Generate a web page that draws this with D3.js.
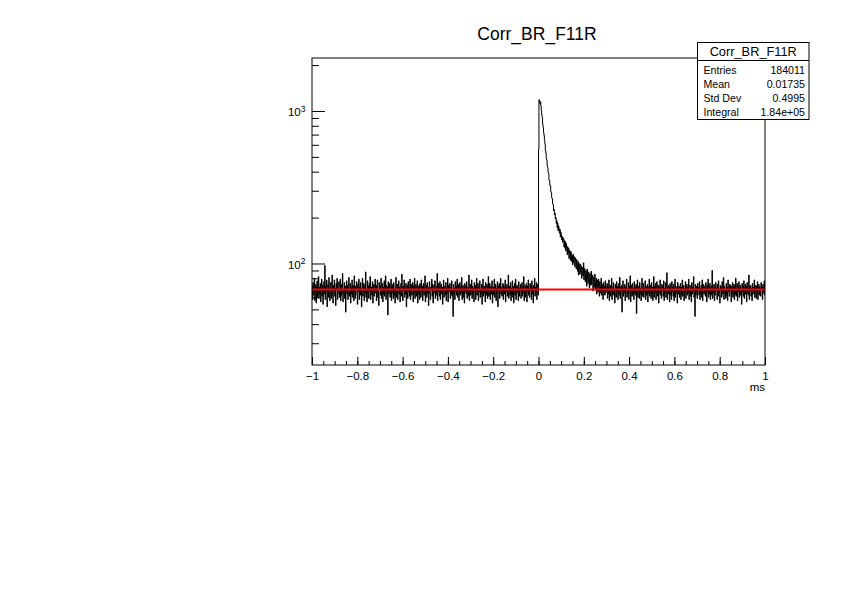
<!DOCTYPE html>
<html><head><meta charset="utf-8">
<script src="https://cdn.jsdelivr.net/npm/d3@7"></script>
<style>body{margin:0;background:#fff} text{font-family:"Liberation Sans",Arial,Helvetica,sans-serif;fill:#000}</style>
</head><body><svg id="c" width="842" height="595"></svg>
<script>
const chartTitle="Corr_BR_F11R";
const xTitle="ms";
const xDomain=[-1,1];
const yDomain=[21.6,2225];
const binWidth=0.002;
// bin contents, -1.000 .. -0.002 ms
const leftNoise=[
71,58,75,62,66,80,57,69,73,55,68,77,60,64,82,59,70,63,74,56,
67,79,61,72,54,69,76,63,97,58,71,65,78,52,66,73,60,81,64,57,
70,75,59,68,84,62,55,72,66,78,61,69,53,74,67,80,58,63,71,76,
60,65,79,57,73,62,70,86,56,68,64,75,59,71,48,66,77,63,72,58,
69,81,61,67,74,55,70,63,78,60,66,72,57,83,64,59,71,68,76,62,
54,73,65,79,58,70,62,75,67,52,69,80,61,66,74,57,71,64,88,60,
68,56,77,63,71,59,74,66,82,58,65,70,62,76,55,69,73,61,67,79,
64,72,57,69,78,60,66,53,75,68,71,62,80,59,67,74,56,70,63,77,
61,68,83,58,72,65,70,46,76,63,69,74,60,67,79,57,71,64,73,59,
75,62,68,55,71,81,60,66,73,58,69,77,63,70,56,67,74,61,85,64,
57,71,66,78,60,69,63,74,52,68,72,59,76,65,70,61,79,58,67,73,
62,69,75,56,71,64,80,59,68,73,61,66,77,55,70,63,72,58,74,67,
60,78,65,71,57,68,74,62,69,83,56,66,72,60,75,64,69,53,71,76,
63,58,70,67,79,61,73,55,66,72,64,77,59,68,62,71,86,57,65,74,
69,61,76,58,67,73,63,70,54,68,78,60,66,71,62,75,57,69,64,80,
56,72,65,68,74,59,70,63,77,61,67,45,73,64,69,58,76,66,71,62,
79,60,68,73,57,66,75,62,70,64,81,58,67,72,60,69,55,74,65,71,
63,76,59,67,70,61,84,57,68,73,62,66,78,59,71,64,69,56,75,67,
72,58,66,80,62,69,74,57,70,65,77,60,68,63,73,54,67,79,61,70,
64,71,56,75,68,62,73,59,66,82,61,69,74,58,67,71,63,77,55,68,
70,62,79,60,67,73,57,69,64,76,52,71,66,74,59,68,80,63,70,61,
67,74,58,72,63,69,78,56,70,65,73,61,68,84,59,66,71,62,75,57,
69,63,77,60,71,55,68,74,62,79,58,67,72,64,70,57,76,61,69,66,
73,59,68,75,61,70,64,82,57,67,72,60,69,74,56,71,65,78,62,68,
60,74,66,71,58,77,63,69,55,72,67,80,61,70,64,75,58,68,73,62
];
// bin contents, 0.000 .. 0.298 ms
const peakRegion=[
560,1185,1140,1120,1150,1075,1010,940,905,820,
780,722,690,640,606,552,531,490,476,438,
425,396,388,352,350,327,322,296,291,270,
266,246,243,222,226,209,214,196,200,183,
191,172,184,164,176,170,158,167,149,160,
155,143,150,138,147,146,129,141,126,139,
121,135,128,114,129,117,126,108,122,113,
105,120,117,103,112,98,115,101,111,108,
95,109,104,92,106,99,89,103,84,100,
97,85,99,88,96,80,94,91,83,101,
78,93,87,76,90,85,71,92,80,74,
88,83,69,86,79,72,89,73,80,84,
66,81,77,70,85,68,74,80,63,78,
72,65,79,69,61,76,71,64,80,62,
73,68,58,75,66,71,62,77,64,70
];
// bin contents, 0.300 .. 0.998 ms
const rightNoise=[
66,74,59,71,63,78,57,69,72,61,67,80,58,70,64,75,62,68,55,73,
69,60,76,65,71,58,67,74,62,81,59,70,66,72,48,68,77,61,69,64,
73,57,70,66,79,60,68,63,75,58,71,65,83,56,67,72,61,74,63,69,
58,76,64,70,62,73,47,68,78,60,66,71,59,75,63,69,57,72,80,61,
67,74,60,69,65,77,58,71,62,68,73,56,70,64,79,61,66,72,59,75,
63,70,57,68,82,60,71,65,74,58,69,76,61,67,72,55,70,64,78,62,
68,59,73,66,71,61,77,57,69,64,75,60,68,87,58,66,72,63,70,56,
74,62,69,58,76,65,70,61,73,57,67,79,60,71,64,68,55,75,63,69,
71,60,66,74,58,70,63,78,61,68,72,57,69,65,76,59,67,73,62,70,
64,79,58,67,72,61,69,56,75,63,70,66,82,60,68,45,73,62,71,65,
59,74,67,70,62,76,58,69,64,72,60,78,57,68,73,63,66,71,61,75,
68,56,72,65,79,60,70,63,74,58,67,71,62,90,59,69,64,73,57,70,
62,75,66,69,58,73,61,77,64,68,55,72,67,70,60,76,63,69,81,58,
71,64,68,59,74,62,70,57,78,65,69,61,73,66,72,56,70,63,75,60,
67,73,58,71,63,80,61,68,74,57,70,65,76,60,69,72,62,67,54,74,
65,70,61,77,59,68,73,63,71,56,75,64,69,62,84,58,70,66,72,61,
69,57,74,63,70,66,78,60,67,72,59,71,64,76,58,68,73,62,70,65,
61,75,67,70,58,73,64,69,77,62
];
const fitConstant=67.5;
const xMajorTicks=[-1,-0.8,-0.6,-0.4,-0.2,0,0.2,0.4,0.6,0.8,1];
const xMinorStep=0.05;
const yMajorTicks=[100,1000];
const yMinorTicks=[30,40,50,60,70,80,90,200,300,400,500,600,700,800,900,2000];
const statsLabels=["Entries","Mean","Std Dev","Integral"];
const statsValues=["184011","0.01735","0.4995","1.84e+05"];

const counts=leftNoise.concat(peakRegion,rightNoise);
const svg=d3.select("#c");
const F={l:312,r:765,t:58,b:365};
const x=d3.scaleLinear().domain(xDomain).range([F.l,F.r]);
const y=d3.scaleLog().domain(yDomain).range([F.b,F.t]);

// histogram step outline
const pts=[];
counts.forEach((c,i)=>{const x0=xDomain[0]+i*binWidth;pts.push([x0,c],[x0+binWidth,c]);});
const line=d3.line().x(d=>x(d[0])).y(d=>y(d[1]));
svg.append("path").attr("d",line(pts)).attr("fill","none").attr("stroke","#000").attr("stroke-width",1);

// fit
svg.append("path").attr("d",line([[xDomain[0],fitConstant],[xDomain[1],fitConstant]]))
  .attr("fill","none").attr("stroke","#ff0000").attr("stroke-width",2);

// frame
svg.append("rect").attr("x",F.l).attr("y",F.t).attr("width",F.r-F.l).attr("height",F.b-F.t)
  .attr("fill","none").attr("stroke","#000").attr("stroke-width",1);

// x axis
const xMinor=d3.range(Math.round((xDomain[1]-xDomain[0])/xMinorStep)+1).map(i=>xDomain[0]+i*xMinorStep);
const gxm=svg.append("g").attr("transform",`translate(0,${F.b})`)
  .call(d3.axisBottom(x).tickValues(xMinor).tickSize(-4).tickFormat(""));
const gx=svg.append("g").attr("transform",`translate(0,${F.b})`)
  .call(d3.axisBottom(x).tickValues(xMajorTicks).tickSize(-8).tickPadding(6.5).tickFormat(d3.format("")));
[gxm,gx].forEach(g=>{g.select(".domain").remove();g.selectAll("line").attr("stroke","#000");});
gx.selectAll("text").attr("font-size",11.5).attr("font-family","Liberation Sans, Arial, sans-serif");

// y axis
const gym=svg.append("g").attr("transform",`translate(${F.l},0)`)
  .call(d3.axisLeft(y).tickValues(yMinorTicks).tickSize(-7).tickFormat(""));
const gy=svg.append("g").attr("transform",`translate(${F.l},0)`)
  .call(d3.axisLeft(y).tickValues(yMajorTicks).tickSize(-13).tickFormat(""));
[gym,gy].forEach(g=>{g.select(".domain").remove();g.selectAll("line").attr("stroke","#000");});
yMajorTicks.forEach(v=>{
  const t=svg.append("text").attr("x",F.l-6.5).attr("y",y(v)+5.5).attr("text-anchor","end").attr("font-size",11.5);
  t.append("tspan").text("10");
  t.append("tspan").attr("font-size",8.5).attr("dy",-4.7).text(String(Math.round(Math.log10(v))));
});

// titles
svg.append("text").attr("x",537).attr("y",40).attr("text-anchor","middle").attr("font-size",17.5).text(chartTitle);
svg.append("text").attr("x",F.r).attr("y",391).attr("text-anchor","end").attr("font-size",11.5).text(xTitle);

// stats box
const S={x:697.5,y:42.5,w:111.5,h:77};
svg.append("rect").attr("x",S.x).attr("y",S.y).attr("width",S.w).attr("height",S.h)
  .attr("fill","#fff").attr("stroke","#000").attr("stroke-width",1);
svg.append("line").attr("x1",S.x).attr("x2",S.x+S.w).attr("y1",60.5).attr("y2",60.5).attr("stroke","#000");
svg.append("text").attr("x",S.x+S.w/2).attr("y",56).attr("text-anchor","middle").attr("font-size",12.8).text(chartTitle);
statsLabels.forEach((l,i)=>{
  svg.append("text").attr("x",703.5).attr("y",73.5+i*14).attr("font-size",10.6).text(l);
  svg.append("text").attr("x",805).attr("y",73.5+i*14).attr("text-anchor","end").attr("font-size",10.6).text(statsValues[i]);
});
</script></body></html>
